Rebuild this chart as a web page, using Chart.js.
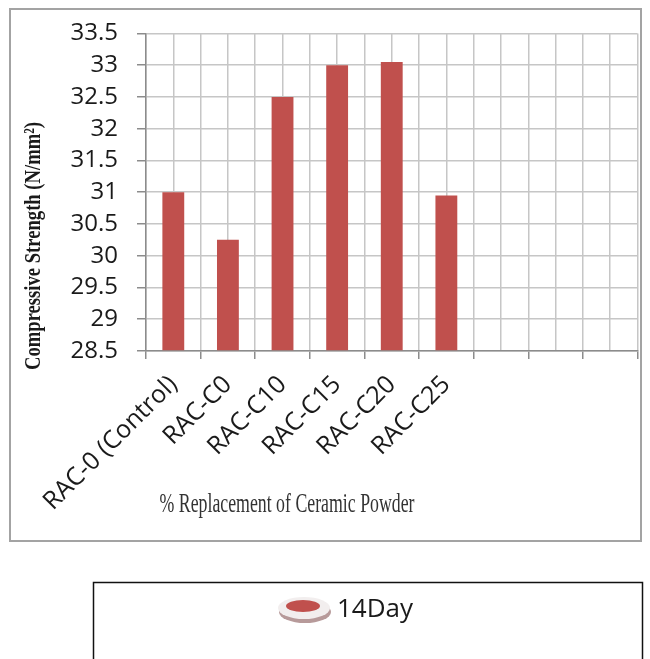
<!DOCTYPE html>
<html>
<head>
<meta charset="utf-8">
<script src="https://cdn.jsdelivr.net/npm/chart.js@4.4.1/dist/chart.umd.min.js"></script>
<style>
  html, body { margin: 0; padding: 0; background: #ffffff; }
  #wrap { width: 650px; height: 659px; }
</style>
</head>
<body>
<div id="wrap"><canvas id="c" width="650" height="659"></canvas></div>
<script>
// Mix designs (three trailing empty slots on the category axis)
const categories = ['RAC-0 (Control)', 'RAC-C0', 'RAC-C10', 'RAC-C15', 'RAC-C20', 'RAC-C25', '', '', ''];
// 14-day compressive strength, N/mm²
const strength14Day = [31.0, 30.25, 32.5, 33.0, 33.05, 30.95, null, null, null];
const seriesName = '14Day';
const yTitle = 'Compressive Strength (N/mm²)';
const xTitle = '% Replacement of Ceramic Powder';
const yMin = 28.5, yMax = 33.5, yStep = 0.5;

const BAR = '#C0504D';
const GRID = '#c6c6c6';
const AXIS = '#8c8c8c';
const Y_TICK_FONT = { family: "'Open Sans', sans-serif", size: 24 };
const X_TICK_FONT = { family: "'Open Sans', sans-serif", size: 25 };

// Frame boxes, axis titles and the legend panel
const decorations = {
  id: 'decorations',
  beforeDraw(chart) {
    const ctx = chart.ctx;
    ctx.save();
    ctx.fillStyle = '#ffffff';
    ctx.fillRect(0, 0, chart.width, chart.height);
    // outer chart frame
    ctx.strokeStyle = '#a3a3a3';
    ctx.lineWidth = 2;
    ctx.strokeRect(10, 9, 631, 532);
    ctx.restore();
  },
  afterDraw(chart) {
    const ctx = chart.ctx;
    ctx.save();
    // y title, condensed bold serif
    ctx.font = "bold 23px 'Liberation Serif', 'Times New Roman', serif";
    ctx.fillStyle = '#1a1a1a';
    ctx.textAlign = 'center';
    ctx.textBaseline = 'middle';
    let w = ctx.measureText(yTitle).width;
    ctx.translate(34, 246);
    ctx.rotate(-Math.PI / 2);
    ctx.scale(248 / w, 1);
    ctx.fillText(yTitle, 0, 0);
    ctx.restore();

    ctx.save();
    ctx.font = "27px 'Liberation Serif', 'Times New Roman', serif";
    ctx.fillStyle = '#333333';
    ctx.textAlign = 'center';
    ctx.textBaseline = 'middle';
    w = ctx.measureText(xTitle).width;
    ctx.translate(287, 505);
    ctx.scale(255 / w, 1);
    ctx.fillText(xTitle, 0, 0);
    ctx.restore();

    // legend panel
    ctx.save();
    ctx.strokeStyle = '#111111';
    ctx.lineWidth = 1.5;
    ctx.strokeRect(93.5, 582.5, 549, 100);
    const ds = chart.data.datasets[0];
    const cx = 304, cy = 608;
    // disc marker: shadow rim, white face, red inset
    ctx.fillStyle = '#b79a9a';
    ctx.beginPath(); ctx.ellipse(cx + 1, cy + 4, 26, 11, 0, 0, Math.PI * 2); ctx.fill();
    ctx.fillStyle = '#f2eeee';
    ctx.beginPath(); ctx.ellipse(cx, cy, 26, 11, 0, 0, Math.PI * 2); ctx.fill();
    ctx.fillStyle = ds.backgroundColor;
    ctx.beginPath(); ctx.ellipse(cx - 1, cy - 2, 17, 6, 0, 0, Math.PI * 2); ctx.fill();
    ctx.fillStyle = '#1a1a1a';
    ctx.font = "26px 'Open Sans', sans-serif";
    ctx.textAlign = 'left';
    ctx.textBaseline = 'middle';
    ctx.fillText(ds.label, 337, 610);
    ctx.restore();
  }
};

new Chart(document.getElementById('c'), {
  type: 'bar',
  data: {
    labels: categories,
    datasets: [{
      label: seriesName,
      data: strength14Day,
      base: yMin,
      backgroundColor: BAR,
      borderWidth: 0,
      barPercentage: 0.4,
      categoryPercentage: 1.0
    }]
  },
  options: {
    responsive: false,
    animation: false,
    layout: { padding: { left: 0, top: 26.5, right: 12.5, bottom: 0 } },
    plugins: { legend: { display: false }, tooltip: { enabled: false } },
    scales: {
      x: {
        type: 'category',
        offset: true,
        grid: { offset: true, color: GRID, lineWidth: 1.5, tickLength: 8, tickColor: AXIS },
        border: { color: AXIS, width: 1.5 },
        ticks: { font: X_TICK_FONT, color: '#1a1a1a', minRotation: 45, maxRotation: 45, padding: 11, autoSkip: false },
        afterFit(s) { s.height = 308; }
      },
      x2: {
        type: 'category',
        position: 'bottom',
        offset: true,
        grid: { offset: false, color: GRID, lineWidth: 1.5, drawTicks: false },
        border: { display: false },
        ticks: { display: false },
        afterFit(s) { s.height = 0; }
      },
      y: {
        min: yMin,
        max: yMax,
        grid: { color: GRID, lineWidth: 1.5, tickLength: 9, tickColor: AXIS },
        border: { color: AXIS, width: 1.5 },
        ticks: {
          stepSize: yStep, font: Y_TICK_FONT, color: '#1a1a1a', padding: 19, autoSkip: false,
          callback: (v) => String(Math.round(v * 10) / 10)
        },
        afterFit(s) { s.width = 146; }
      }
    }
  },
  plugins: [decorations]
});
</script>
</body>
</html>
